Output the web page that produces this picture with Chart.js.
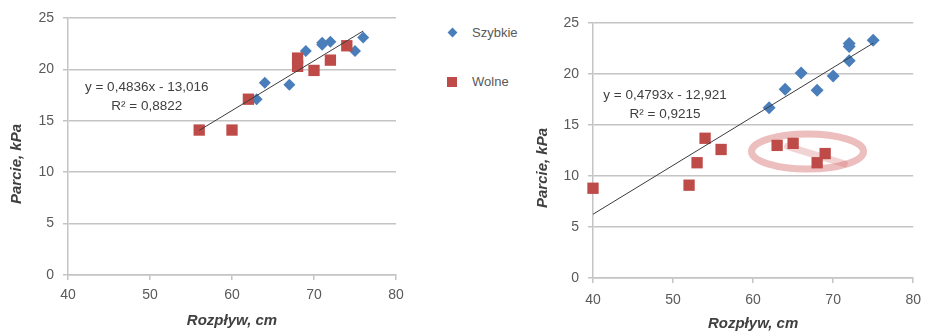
<!DOCTYPE html>
<html>
<head>
<meta charset="utf-8">
<script src="https://cdn.jsdelivr.net/npm/chart.js@4"></script>
<style>
  html, body { margin: 0; padding: 0; background: #fff; }
  body { position: relative; width: 930px; height: 333px; overflow: hidden;
         font-family: "Liberation Sans", Arial, sans-serif; }
  #left  { position: absolute; left: 0; top: 0; }
  #right { position: absolute; left: 525px; top: 0; }
  .key { position: absolute; left: 447px; height: 16px; line-height: 16px;
         font-size: 13px; color: #595959; white-space: nowrap; }
  .key i { position: absolute; top: 3px; left: 1px; }
  .key span { position: absolute; left: 25px; top: 0; }
  .diamond { width: 7px; height: 7px; background: #4a7ebb; transform: rotate(45deg); margin: 1px 0 0 1px; }
  .square  { width: 10px; height: 10px; background: #be4b48; left: 0 !important; top: 3px !important; }
</style>
</head>
<body>
<canvas id="left" width="420" height="333"></canvas>
<canvas id="right" width="405" height="333"></canvas>
<div class="key" style="top:25px"><i class="diamond"></i><span>Szybkie</span></div>
<div class="key" style="top:74px"><i class="square"></i><span>Wolne</span></div>

<script>
// Measurements: flow spread (cm) vs. pressure (kPa), fast and slow pours
const seriesNames = ['Szybkie', 'Wolne'];
const axisTitleX = 'Rozpływ, cm';
const axisTitleY = 'Parcie, kPa';
const xTicks = [40, 50, 60, 70, 80];
const yTicks = [0, 5, 10, 15, 20, 25];

// Left panel
const leftFastX = [63, 64, 67, 69, 71, 71, 72, 75, 76];
const leftFastY = [17.1, 18.7, 18.5, 21.8, 22.4, 22.6, 22.7, 21.8, 23.1];
const leftSlowX = [56, 60, 62, 68, 68, 70, 72, 74];
const leftSlowY = [14.1, 14.1, 17.1, 20.3, 21.1, 19.9, 20.9, 22.3];
const leftTrend = { slope: 0.4836, intercept: -13.016, r2: 0.8822 };

// Right panel
const rightFastX = [62, 64, 66, 68, 70, 72, 72, 72, 75];
const rightFastY = [16.7, 18.5, 20.1, 18.4, 19.8, 21.3, 22.7, 23.0, 23.3];
const rightSlowX = [40, 52, 53, 54, 56, 63, 65, 68, 69];
const rightSlowY = [8.8, 9.1, 11.3, 13.7, 12.6, 13.0, 13.2, 11.3, 12.2];
const rightTrend = { slope: 0.4793, intercept: -12.921, r2: 0.9215 };

const BLUE = '#4a7ebb';
const RED = '#be4b48';
const GRID = '#c4c4c4';
const TICK_COLOR = '#595959';
const TITLE_COLOR = '#404040';
const FONT = '"Liberation Sans", Arial, sans-serif';

const pl = n => String(n).replace('.', ',');
const pairs = (xs, ys) => xs.map((x, i) => ({ x, y: ys[i] }));

// Trend equation, R² note, rotated y title and optional highlight ring
const notesPlugin = {
  id: 'notes',
  beforeDatasetsDraw(chart, args, o) {
    if (!o.ring) return;
    const { ctx } = chart;
    const xs = chart.scales.x, ys = chart.scales.y;
    const r = o.ring;
    const cx = xs.getPixelForValue(r.cx), cy = ys.getPixelForValue(r.cy);
    ctx.save();
    ctx.strokeStyle = 'rgba(212, 110, 110, 0.45)';
    ctx.lineWidth = 7;
    ctx.beginPath();
    ctx.ellipse(cx, cy, r.rx, r.ry, 0, 0, Math.PI * 2);
    ctx.stroke();
    ctx.strokeStyle = 'rgba(212, 110, 110, 0.3)';
    ctx.lineWidth = 7;
    ctx.lineCap = 'round';
    ctx.beginPath();
    ctx.moveTo(xs.getPixelForValue(r.tail[0]), ys.getPixelForValue(r.tail[1]));
    ctx.quadraticCurveTo(xs.getPixelForValue(r.tail[2]), ys.getPixelForValue(r.tail[3]),
                         xs.getPixelForValue(r.tail[4]), ys.getPixelForValue(r.tail[5]));
    ctx.stroke();
    ctx.restore();
  },
  afterDatasetsDraw(chart, args, o) {
    const { ctx } = chart;
    const xs = chart.scales.x, ys = chart.scales.y;
    const t = o.trend;
    ctx.save();
    ctx.fillStyle = '#404040';
    ctx.font = '13.5px ' + FONT;
    ctx.textAlign = 'center';
    ctx.textBaseline = 'middle';
    const ex = xs.getPixelForValue(o.noteAt[0]);
    const ey = ys.getPixelForValue(o.noteAt[1]);
    const sign = t.intercept < 0 ? ' - ' : ' + ';
    ctx.fillText('y = ' + pl(t.slope) + 'x' + sign + pl(Math.abs(t.intercept)), ex, ey);
    ctx.fillText('R\u00B2 = ' + pl(t.r2), ex, ey + 19);

    ctx.translate(o.yTitleAt[0], o.yTitleAt[1]);
    ctx.rotate(-Math.PI / 2);
    ctx.fillStyle = TITLE_COLOR;
    ctx.font = 'italic bold 15px ' + FONT;
    ctx.fillText(axisTitleY, 0, 0);
    ctx.restore();
  }
};

function panel(canvasId, fx, fy, sx, sy, trend, layout) {
  const xsAll = fx.concat(sx);
  const x0 = Math.min(...xsAll), x1 = Math.max(...xsAll);
  const line = [x0, x1].map(x => ({ x, y: trend.slope * x + trend.intercept }));

  return new Chart(document.getElementById(canvasId), {
    type: 'scatter',
    data: {
      datasets: [
        { type: 'line', label: 'trend', data: line, borderColor: '#3c3c3c', borderWidth: 1,
          pointRadius: 0, fill: false, order: 0 },
        { label: seriesNames[1], data: pairs(sx, sy), backgroundColor: RED, borderColor: RED,
          borderWidth: 0, pointStyle: 'rect', pointRadius: layout.sq, order: 1, clip: false },
        { label: seriesNames[0], data: pairs(fx, fy), backgroundColor: BLUE, borderColor: BLUE,
          borderWidth: 0, pointStyle: 'rectRot', pointRadius: layout.dm, order: 2, clip: false }
      ]
    },
    options: {
      responsive: false,
      animation: false,
      events: [],
      layout: { padding: { top: layout.top, right: layout.right, left: 0, bottom: 0 } },
      plugins: {
        legend: { display: false },
        tooltip: { enabled: false },
        notes: { trend, noteAt: layout.noteAt, yTitleAt: layout.yTitleAt, ring: layout.ring }
      },
      scales: {
        x: {
          type: 'linear', min: xTicks[0], max: xTicks[xTicks.length - 1],
          afterBuildTicks: s => { s.ticks = xTicks.map(v => ({ value: v })); },
          afterFit: s => { s.height = layout.xHeight; },
          ticks: { color: TICK_COLOR, font: { family: FONT, size: 14 }, padding: layout.xPad },
          grid: { drawOnChartArea: false, tickLength: 5, color: GRID, lineWidth: 1.5 },
          border: { color: GRID, width: 1.5 },
          title: { display: true, text: axisTitleX, color: TITLE_COLOR,
                   font: { family: FONT, size: 15, style: 'italic', weight: 'bold' },
                   padding: { top: 0, bottom: layout.xTitlePad } }
        },
        y: {
          type: 'linear', min: yTicks[0], max: yTicks[yTicks.length - 1],
          afterBuildTicks: s => { s.ticks = yTicks.map(v => ({ value: v })); },
          afterFit: s => { s.width = layout.yWidth; },
          ticks: { color: TICK_COLOR, font: { family: FONT, size: 14 }, padding: 9 },
          grid: { color: GRID, lineWidth: 1.5, tickLength: 5 },
          border: { color: GRID, width: 1.5 }
        }
      }
    },
    plugins: [notesPlugin]
  });
}

panel('left', leftFastX, leftFastY, leftSlowX, leftSlowY, leftTrend, {
  top: 18, right: 24, yWidth: 68, xHeight: 58, xPad: 7, xTitlePad: 3,
  sq: 8, dm: 6, noteAt: [49.6, 18.3], yTitleAt: [17, 164]
});

panel('right', rightFastX, rightFastY, rightSlowX, rightSlowY, rightTrend, {
  top: 23, right: 10, yWidth: 68, xHeight: 55, xPad: 9, xTitlePad: 0,
  sq: 8, dm: 6.5, noteAt: [49.0, 17.9], yTitleAt: [18, 168],
  ring: { cx: 66.8, cy: 12.4, rx: 56, ry: 17.5, tail: [64.3, 12.9, 68, 12.0, 71.4, 11.2] }
});
</script>
</body>
</html>
